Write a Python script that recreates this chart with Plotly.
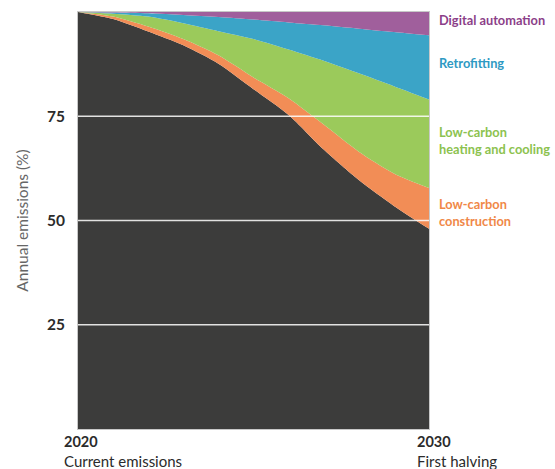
import plotly.graph_objects as go

# Timeline
years = [2020, 2021, 2022, 2023, 2024, 2025, 2026, 2027, 2028, 2029, 2030]

# Remaining annual emissions (% of 2020 level)
remaining = [100, 98.3, 95.3, 92.0, 87.6, 81.5, 75.3, 67.0, 59.7, 53.5, 48.0]

# Reductions delivered by each lever (percentage points, stacked above remaining)
low_carbon_construction = [0, 0.6, 1.2, 1.5, 2.0, 2.8, 4.0, 6.0, 6.8, 7.8, 9.8]
low_carbon_heating_cooling = [0, 0.7, 2.4, 3.8, 5.8, 9.2, 11.7, 15.3, 18.8, 20.9, 21.2]
retrofitting = [0, 0.3, 0.8, 2.0, 3.4, 4.7, 6.5, 8.5, 10.7, 13.0, 15.4]
digital_automation = [0, 0.1, 0.3, 0.7, 1.2, 1.8, 2.5, 3.2, 4.0, 4.8, 5.6]

y_ticks = [25, 50, 75]

series = [
    ("Remaining emissions", remaining, "#3c3c3b"),
    ("Low-carbon construction", low_carbon_construction, "#f28d56"),
    ("Low-carbon heating and cooling", low_carbon_heating_cooling, "#9bca5b"),
    ("Retrofitting", retrofitting, "#3ba4c7"),
    ("Digital automation", digital_automation, "#a05f9c"),
]

fig = go.Figure()
for name, vals, color in series:
    fig.add_trace(go.Scatter(
        x=years, y=vals, name=name, stackgroup="one",
        mode="lines", line=dict(width=0, color=color, shape="spline", smoothing=0.7),
        fillcolor=color, hoverinfo="skip",
    ))

# White gridlines drawn over the filled areas
for t in y_ticks:
    fig.add_shape(type="line", xref="paper", x0=0, x1=1, yref="y", y0=t, y1=t,
                  line=dict(color="rgba(255,255,255,0.85)", width=1.5), layer="above")

label_font = "Lato, 'Open Sans', sans-serif"

# Lever labels at the right of the chart
right_labels = [
    ("Digital automation", 98.0, "#8c3f89"),
    ("Retrofitting", 87.8, "#2e9ac3"),
    ("Low-carbon<br>heating and cooling", 69.3, "#8cc24f"),
    ("Low-carbon<br>construction", 52.0, "#f08848"),
]
for text, yv, color in right_labels:
    fig.add_annotation(text=f"<b>{text}</b>", x=1, xref="paper", xanchor="left", xshift=8,
                       y=yv, yref="y", yanchor="middle", showarrow=False, align="left",
                       font=dict(family=label_font, size=12.8, color=color))

# Start / end labels under the axis
for yr, sub, shift in [(2020, "Current emissions", -16), (2030, "First halving", -14)]:
    fig.add_annotation(text=f"<b><span style='font-size:14.5px'>{yr}</span></b><br>{sub}",
                       x=yr, xref="x", xanchor="left", xshift=shift,
                       y=0, yref="paper", yanchor="top", yshift=-2, showarrow=False, align="left",
                       font=dict(family=label_font, size=15, color="#2b2b2b"))

fig.update_layout(
    width=555, height=469,
    margin=dict(l=78, r=126, t=12, b=40),
    paper_bgcolor="white", plot_bgcolor="white",
    showlegend=False,
    font=dict(family=label_font),
)
fig.update_xaxes(range=[2020, 2030], showticklabels=False, showgrid=False, zeroline=False,
                 showline=True, linecolor="#c8c8c8", linewidth=1, mirror=True, ticks="")
fig.update_yaxes(range=[0, 100], tickvals=y_ticks, ticktext=[f"<b>{t}</b>" for t in y_ticks],
                 tickfont=dict(family=label_font, size=15.5, color="#2b2b2b"), ticks="", ticklabelstandoff=9,
                 showgrid=False, zeroline=False, showline=True, linecolor="#c8c8c8", linewidth=1, mirror=True,
                 title=dict(text="Annual emissions (%)", standoff=14,
                            font=dict(family=label_font, size=15.5, color="#666666")))

fig.write_html("out.html")
